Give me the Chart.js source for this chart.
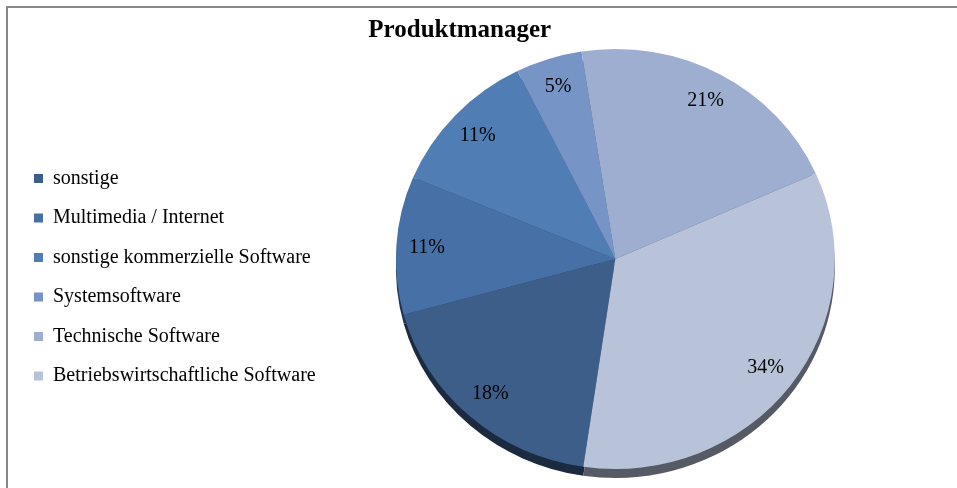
<!DOCTYPE html>
<html>
<head>
<meta charset="utf-8">
<script src="https://cdn.jsdelivr.net/npm/chart.js@4/dist/chart.umd.min.js"></script>
<style>
  body { margin: 0; background: #fff; overflow: hidden; }
  #frame {
    position: absolute; left: 6px; top: 6px; width: 2000px; height: 2000px;
    border-left: 2px solid #878787; border-top: 2px solid #878787;
    pointer-events: none;
  }
  canvas { position: absolute; left: 0; top: 0; }
</style>
</head>
<body>
<canvas id="chart" width="957" height="488"></canvas>
<div id="frame"></div>
<script>
// data
const categories = ['sonstige', 'Multimedia / Internet', 'sonstige kommerzielle Software',
  'Systemsoftware', 'Technische Software', 'Betriebswirtschaftliche Software'];
const shares = [18.4, 10.6, 11.3, 4.9, 20.8, 34.0];
const chartTitle = 'Produktmanager';

const sliceColors = ['#3e5e8a', '#4770a6', '#4f7db4', '#7694c5', '#9daed0', '#b8c3d9'];
const sideColors = ['#1c2a40', '#22344f', '#2a4060', '#3e4f6b', '#4f5668', '#555a64'];
const serif = "'Liberation Serif', 'Times New Roman', serif";

const total = shares.reduce((a, b) => a + b, 0);
const pctLabels = shares.map(v => Math.round(v / total * 100) + '%');

// stretch the pie a bit wider and give it a dark rim underneath
const pieShape = {
  id: 'pieShape',
  beforeDatasetsDraw(chart, args, opts) {
    const ctx = chart.ctx;
    const arcs = chart.getDatasetMeta(0).data;
    const x = arcs[0].x, y = arcs[0].y;
    ctx.save();
    ctx.translate(x, y);
    ctx.scale(opts.scaleX, 1);
    ctx.translate(-x, -y);
    arcs.forEach((arc, i) => {
      const p = arc.getProps(['startAngle', 'endAngle', 'outerRadius'], true);
      ctx.beginPath();
      ctx.moveTo(x, y + opts.depth);
      ctx.arc(x, y + opts.depth, p.outerRadius, p.startAngle, p.endAngle);
      ctx.closePath();
      ctx.fillStyle = sideColors[i];
      ctx.fill();
    });
  },
  afterDatasetsDraw(chart) {
    chart.ctx.restore();
  }
};

const pieLabels = {
  id: 'pieLabels',
  afterDraw(chart, args, opts) {
    const ctx = chart.ctx;
    const arcs = chart.getDatasetMeta(0).data;
    ctx.save();
    ctx.font = '20px ' + serif;
    ctx.fillStyle = '#000';
    ctx.textAlign = 'center';
    ctx.textBaseline = 'middle';
    arcs.forEach((arc, i) => {
      const p = arc.getProps(['x', 'y', 'startAngle', 'endAngle', 'outerRadius'], true);
      const mid = (p.startAngle + p.endAngle) / 2;
      const r = p.outerRadius * opts.offset;
      ctx.fillText(pctLabels[i], p.x + Math.cos(mid) * r * opts.scaleX, p.y + Math.sin(mid) * r);
    });
    ctx.restore();
  }
};

const ctx = document.getElementById('chart').getContext('2d');
new Chart(ctx, {
  type: 'pie',
  data: {
    labels: categories,
    datasets: [{
      data: shares,
      backgroundColor: sliceColors,
      borderWidth: 0
    }]
  },
  options: {
    responsive: false,
    animation: false,
    events: [],
    rotation: 188.4,
    layout: {
      padding: { left: 14.5, right: 52, top: 0, bottom: 19 }
    },
    plugins: {
      title: {
        display: true,
        text: chartTitle,
        color: '#000',
        font: { family: serif, size: 25, weight: 'bold' },
        padding: { top: 16, bottom: 3 }
      },
      legend: {
        position: 'left',
        align: 'center',
        title: { display: true, text: '', font: { size: 10 }, padding: { top: 73.5, bottom: 0 } },
        labels: {
          boxWidth: 9,
          boxHeight: 9,
          padding: 19.5,
          color: '#000',
          font: { family: serif, size: 20 }
        }
      },
      tooltip: { enabled: false },
      pieShape: { scaleX: 1.045, depth: 9 },
      pieLabels: { scaleX: 1.045, offset: 0.86 }
    }
  },
  plugins: [pieShape, pieLabels]
});
</script>
</body>
</html>
